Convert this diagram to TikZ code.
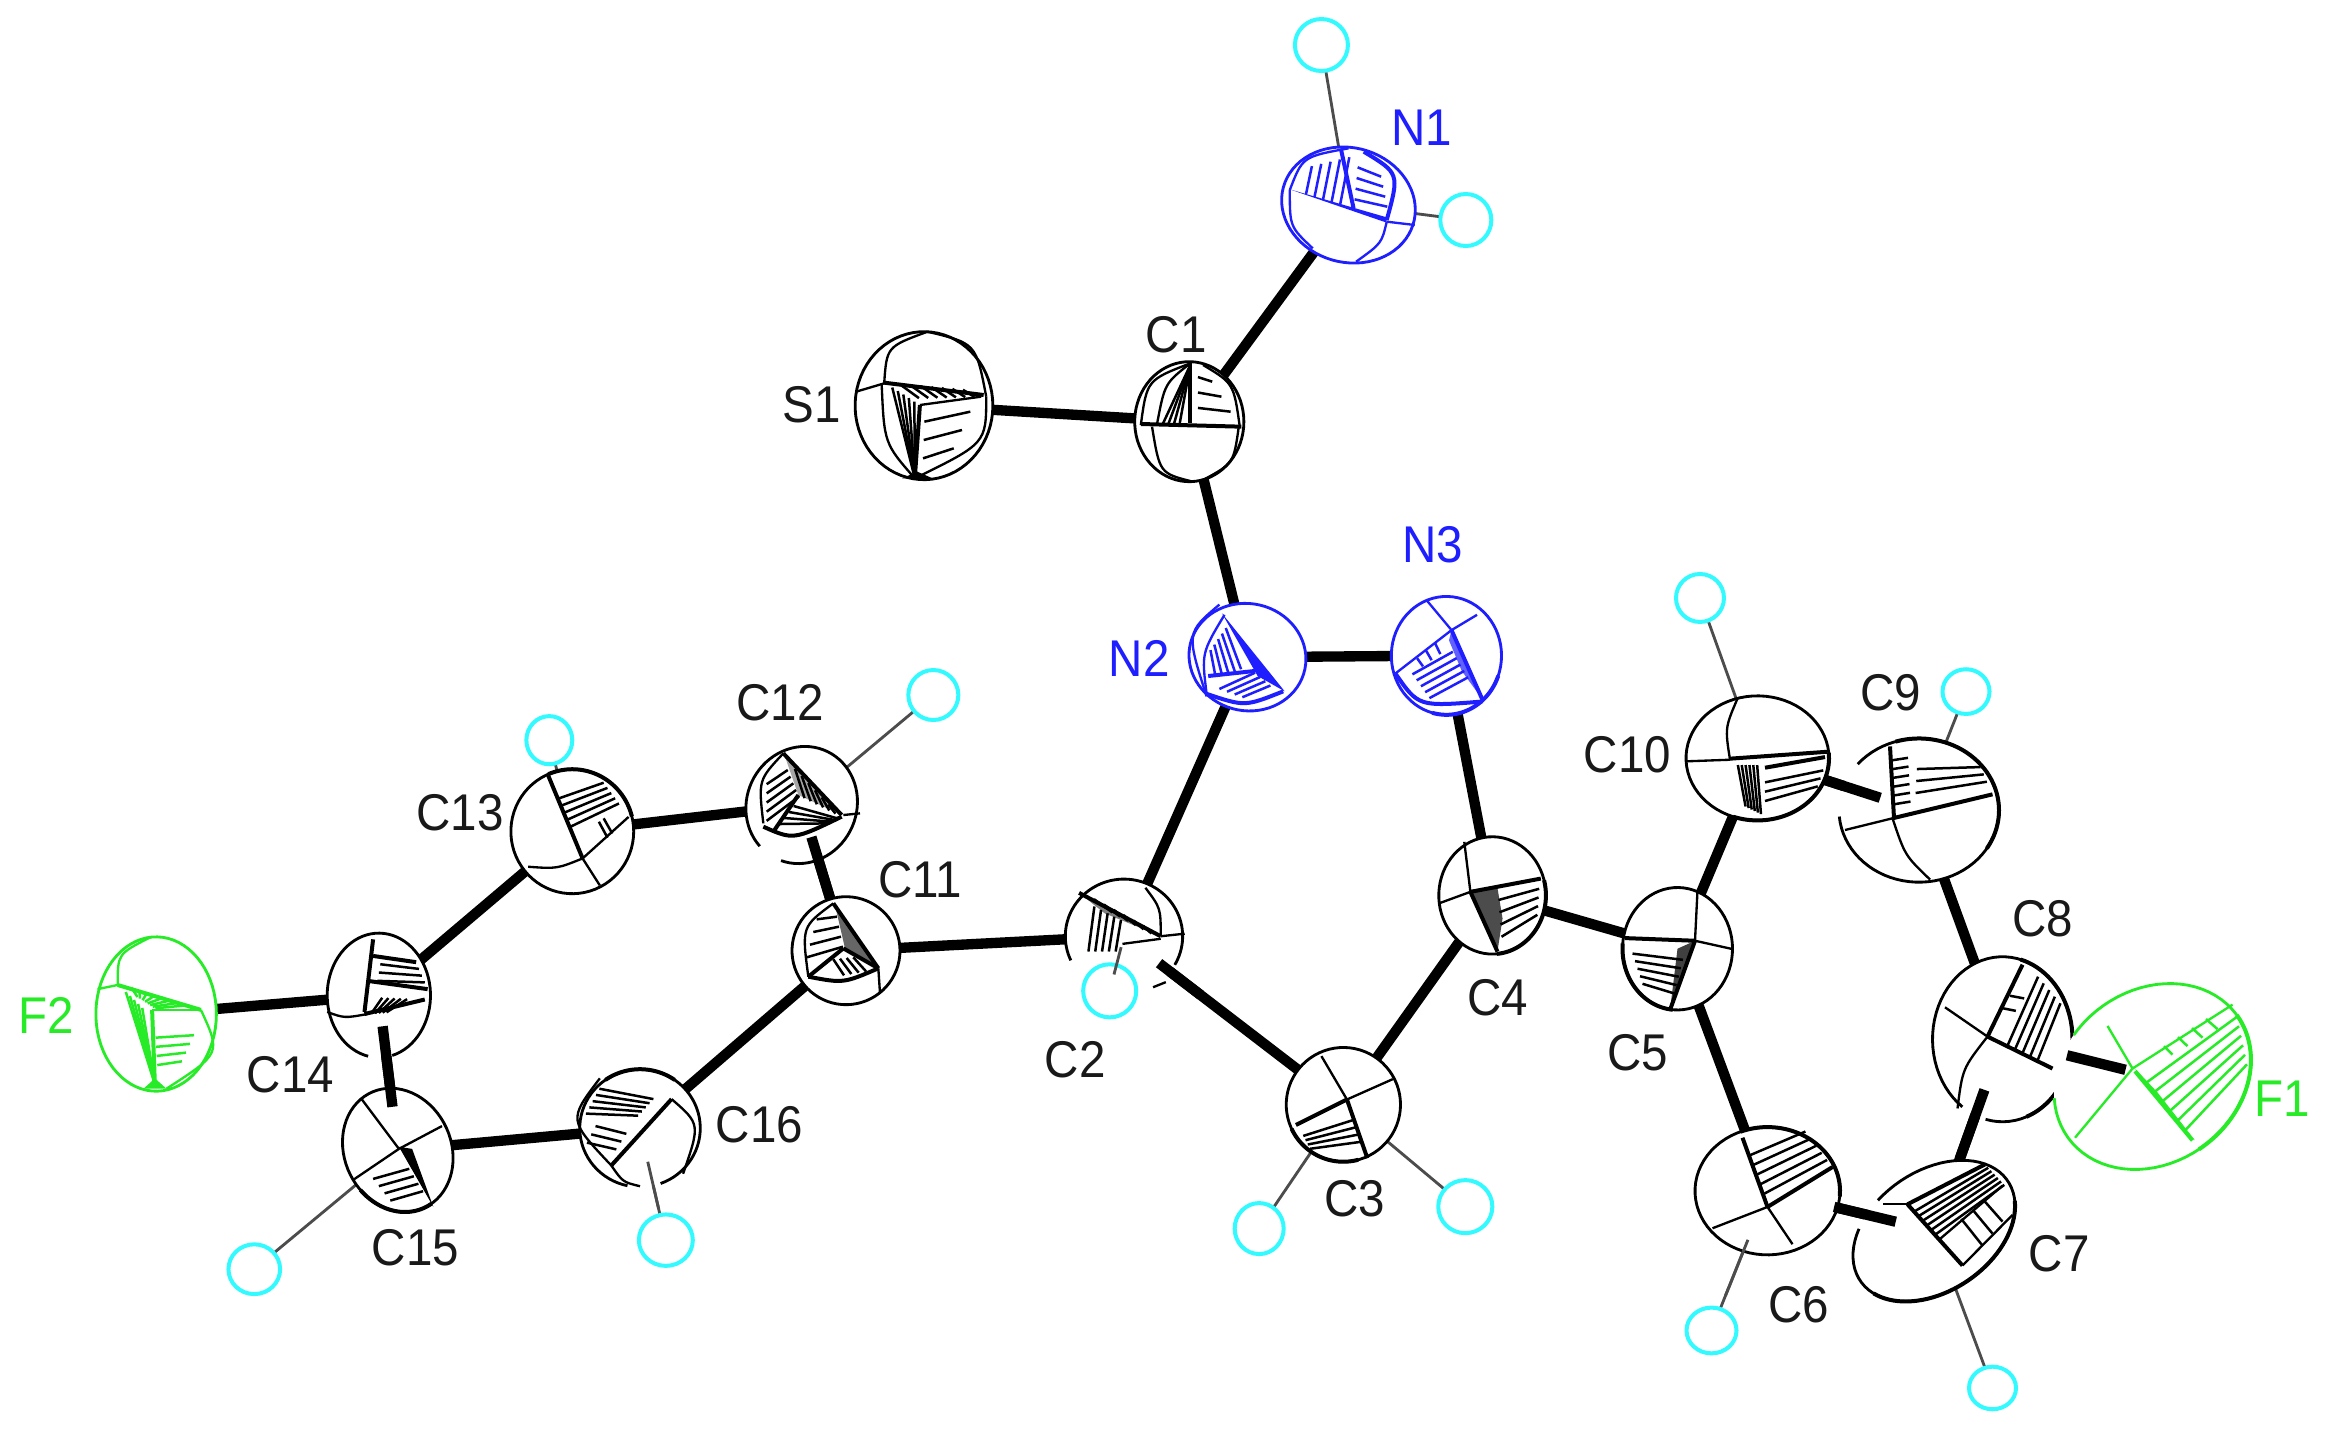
\documentclass[tikz,border=0pt]{standalone}
\usepackage{fontspec}
\setmainfont[FakeStretch=0.92]{Liberation Sans}
\usetikzlibrary{calc}
\definecolor{Nb}{RGB}{30,30,255}
\definecolor{Fg}{RGB}{40,235,40}
\definecolor{Hc}{RGB}{50,250,255}
\definecolor{Lk}{RGB}{25,25,25}
\pgfdeclarelayer{bg}
\pgfsetlayers{bg,main}
\tikzset{
  ol/.style={line width=0.85pt},
  tl/.style={line width=0.7pt},
  hl/.style={line width=0.75pt},
  tk/.style={line width=1.2pt},
  bondline/.style={line width=3.1pt,color=black},
  hbond/.style={line width=0.85pt,color=black!70},
  hat/.style={line width=1.2pt,draw=Hc,fill=white},
  lab/.style={font=\fontsize{15.5}{17}\selectfont,text=Lk,inner sep=0pt},
  z1/.style={shift={(800,0)},xscale=1/1.96,yscale=1/3},
  z2/.style={shift={(1550,600)},xscale=1/2,yscale=1/1.878},
  z3/.style={shift={(0,680)},xscale=1/1.742,yscale=1/2.41},
  z4/.style={shift={(1000,500)},xscale=1/1.96,yscale=1/1.96},
  z5/.style={shift={(720,700)},scale=1/3},
}
\newcommand{\atom}[8]{%
  \def\Ax{#2}\def\Ay{#3}\def\Arx{#4}\def\Ary{#5}\def\Arot{#6}%
  \coordinate (#1) at (#2,#3);
  \fill[white,rotate around={#6:(#2,#3)}] (#2,#3) ellipse [x radius=#4,y radius=#5];
  \draw[ol,rotate around={#6:(#2,#3)}] plot[domain=#7:#8,samples=70,variable=\t] ({#2+#4*cos(\t)},{#3-#5*sin(\t)});
}
\newcommand{\tarc}[2]{%
  \draw[tk,rotate around={\Arot:(\Ax,\Ay)}] plot[domain=#1:#2,samples=40,variable=\t] ({\Ax+\Arx*cos(\t)},{\Ay-\Ary*sin(\t)});
}
\newcommand{\hatom}[5]{%
  \coordinate (#1) at (#2,#3);
  \draw[hat] (#2,#3) ellipse [x radius=#4,y radius=#5];
}
\def\hatch(#1)(#2)(#3)(#4)#5{%
  \foreach \i in {1,...,#5}{%
    \pgfmathsetmacro\hT{\i/(#5+1)}
    \draw[hl] ($(#1)!\hT!(#2)$) -- ($(#3)!\hT!(#4)$);
  }%
}
\newcommand{\fbond}[4]{\draw[bondline] ($(#1)!#3!(#2)$) -- ($(#1)!#4!(#2)$);}
\newcommand{\fhbond}[4]{\draw[hbond] ($(#1)!#3!(#2)$) -- ($(#1)!#4!(#2)$);}
\begin{document}
\begin{tikzpicture}[x=0.3pt,y=-0.3pt]
\useasboundingbox (0,0) rectangle (2335,1435);
% ---------- zone 1
\begin{scope}[z1]
  \atom{S1}{243}{1217}{135}{222}{0}{0}{360}
  \draw[tl] (110,1175)--(165,1150);
  \draw[tl] (165,1150) .. controls (170,1040) .. (250,995);
  \draw[tl] (250,995) .. controls (345,1030) .. (365,1190);
  \draw[tl] (365,1190) .. controls (365,1330) .. (225,1435);
  \draw[tl] (160,1150) .. controls (165,1330) .. (225,1435);
  \hatch(175,1150)(340,1172)(215,1195)(360,1190){7}
  \hatch(170,1152)(235,1215)(225,1435)(225,1435){5}
  \hatch(245,1210)(240,1430)(350,1180)(285,1400){3}
  \draw[tk] (165,1148)--(360,1185);
  \draw[tk] (235,1215)--(225,1435);
  \draw[tl] (235,1215)--(355,1190);
  \fill (200,1435)--(260,1435)--(230,1415)--cycle;
  \atom{C1}{763}{1265}{107}{180}{0}{0}{360}
  \draw[tl] (765,1090) .. controls (680,1140) .. (668,1275);
  \draw[tl] (765,1090) .. controls (715,1150) .. (700,1270);
  \draw[tl] (690,1280) .. controls (705,1420) .. (770,1445);
  \draw[tl] (860,1280) .. controls (850,1390) .. (790,1440);
  \draw[tl] (790,1095) .. controls (850,1150) .. (862,1280);
  \hatch(700,1272)(755,1272)(765,1095)(765,1095){4}
  \hatch(780,1085)(780,1270)(790,1100)(862,1280){3}
  \draw[tk] (668,1272)--(865,1280);
  \draw[tk] (765,1090)--(765,1270);
  \begin{scope}[color=Nb]
    \atom{N1}{1075}{615}{130}{175}{8}{0}{360}
    \draw[tl] (960,570) .. controls (985,470) .. (1075,445);
    \draw[tl] (1005,745) .. controls (960,680) .. (960,570);
    \draw[tl] (1150,665) .. controls (1140,730) .. (1090,785);
    \draw[tl] (1150,665)--(1205,675);
    \hatch(985,505)(1095,465)(975,575)(1075,625){5}
    \hatch(1095,470)(1085,630)(1135,500)(1155,650){4}
    \draw[tk] (1105,455) .. controls (1175,520) .. (1150,660);
    \draw[tk] (1060,445)--(1085,625);
    \fill (960,568)--(1150,652)--(1150,668)--cycle;
  \end{scope}
  \hatom{H1a}{1022}{135}{52}{78}
  \hatom{H1b}{1305}{660}{50}{78}
\end{scope}
% ---------- zone 4
\begin{scope}[z4]
  \begin{scope}[color=Nb]
    \atom{N2}{485}{308}{115}{105}{-12}{0}{360}
    \draw[tl] (430,205) .. controls (365,260) .. (405,385);
    \draw[tl] (405,380) .. controls (395,300) .. (440,225);
    \draw[tk] (405,380) .. controls (480,405) .. (555,375);
    \hatch(405,305)(450,240)(410,350)(485,328){5}
    \hatch(490,330)(540,372)(415,365)(490,392){4}
    \fill (435,222)--(558,375)--(505,345)--cycle;
    \draw[tk] (408,345)--(500,335);
    \atom{N3}{875}{305}{108}{116}{0}{0}{360}
    \draw[tl] (885,255)--(935,225);
    \draw[tl] (885,255)--(835,195);
    \draw[tl] (775,340)--(885,255);
    \hatch(800,330)(850,400)(880,285)(925,360){5}
    \hatch(800,325)(870,265)(812,338)(880,290){3}
    \fill[opacity=.7] (885,255)--(945,390)--(905,335)--(880,275)--cycle;
    \tarc{-105}{-20}
    \draw[tk] (775,340) .. controls (820,405) .. (945,395);
    \draw[tk] (885,255)--(945,390);
  \end{scope}
  \atom{C2}{243}{855}{115}{112}{0}{-30}{205}
  \draw[tl] (315,855) .. controls (315,800) .. (285,760);
  \draw[tl] (315,855)--(362,850);
  \hatch(172,790)(250,830)(160,885)(240,885){5}
  \fill[opacity=.5] (155,770)--(315,855)--(205,810)--cycle;
  \hatch(165,772)(300,845)(205,800)(312,858){6}
  \draw[tk] (155,770)--(315,855);
  \draw[tl] (240,870)--(315,860);
  \draw[tl] (300,955)--(325,945);
  \atom{C3}{673}{1185}{112}{112}{0}{0}{360}
  \draw[tl] (680,1175)--(630,1090);
  \draw[tl] (680,1175)--(770,1135);
  \draw[tk] (680,1175)--(580,1225);
  \draw[tk] (680,1175)--(720,1290);
  \hatch(590,1238)(612,1280)(690,1200)(715,1272){4}
  \tarc{-75}{-155}
  \atom{C4}{965}{775}{105}{115}{0}{0}{360}
  \draw[tl] (862,790)--(922,768);
  \draw[tl] (910,670)--(922,768);
  \draw[tk] (922,768)--(1060,742);
  \draw[tk] (922,768)--(975,885);
  \fill[opacity=.7] (922,770)--(975,885)--(985,820)--(975,760)--cycle;
  \hatch(975,760)(985,880)(1058,745)(1052,830){4}
  \tarc{-85}{15}
  \hatom{H2}{215}{962}{52}{52}
  \hatom{H3a}{508}{1428}{48}{50}
  \hatom{H3b}{912}{1385}{53}{52}
  \hatom{H10}{1372}{192}{47}{47}
\end{scope}
% ---------- zone 2
\begin{scope}[z2]
  \atom{C5}{255}{655}{110}{115}{0}{0}{360}
  \draw[tl] (290,640)--(295,545);
  \draw[tl] (290,640)--(362,655);
  \draw[tk] (150,635)--(290,640);
  \hatch(160,650)(190,735)(270,660)(245,755){5}
  \fill[opacity=.75] (290,640)--(240,770)--(255,655)--cycle;
  \draw[tk] (290,640)--(240,770);
  \tarc{175}{265}
  \atom{C10}{415}{297}{143}{117}{0}{0}{360}
  \draw[tl] (272,303)--(360,300);
  \draw[tl] (375,185) .. controls (350,240) .. (360,300);
  \draw[tk] (360,298)--(555,285);
  \hatch(368,310)(422,310)(385,385)(428,405){6}
  \hatch(430,325)(430,395)(552,305)(530,365){3}
  \draw[tk] (430,315)--(550,295);
  \tarc{-110}{5}
  \atom{C9}{738}{395}{160}{135}{0}{185}{500}
  \draw[tl] (685,410)--(590,432);
  \draw[tl] (685,410) .. controls (710,480) .. (760,525);
  \draw[tk] (685,410)--(885,365);
  \hatch(680,285)(690,400)(715,280)(722,395){6}
  \hatch(735,295)(730,385)(855,300)(880,355){3}
  \draw[tk] (680,275)--(688,410);
  \tarc{-32}{107}
  \atom{C8}{905}{825}{140}{155}{0}{256}{595}
  \draw[tl] (790,765)--(875,820);
  \draw[tk] (875,820)--(1005,880);
  \draw[tl] (875,820) .. controls (825,880) .. (815,955);
  \draw[tk] (875,820)--(945,685);
  \hatch(900,830)(990,872)(965,695)(1032,770){5}
  \hatch(890,790)(935,720)(915,795)(965,725){2}
  \tarc{-70}{75}
  \begin{scope}[color=Fg]
    \atom{F1}{1205}{895}{205}{165}{28}{160}{480}
    \draw[tl] (1165,880)--(1050,1010);
    \draw[tl] (1165,880)--(1115,800);
    \draw[tl] (1165,880)--(1365,760);
    \hatch(1175,890)(1285,1015)(1370,765)(1398,890){6}
    \hatch(1200,855)(1340,770)(1215,870)(1365,790){4}
    \fill (1165,875)--(1290,1015)--(1215,925)--cycle;
    \tarc{-85}{8}
    \draw[tk] (1170,885)--(1285,1015);
  \end{scope}
  \atom{C7}{768}{1185}{175}{115}{30}{137}{473}
  \hatch(720,1140)(780,1200)(870,1060)(915,1105){6}
  \hatch(800,1180)(890,1110)(845,1235)(925,1145){3}
  \draw[tl] (780,1200)--(905,1100);
  \draw[tk] (715,1135)--(825,1250);
  \draw[tk] (715,1135)--(870,1060);
  \draw[tl] (825,1250)--(925,1155);
  \draw[tl] (715,1135)--(665,1135);
  \tarc{201}{344}
  \atom{C6}{435}{1110}{145}{120}{0}{0}{360}
  \draw[tl] (435,1140)--(325,1180);
  \draw[tl] (435,1140)--(485,1210);
  \draw[tk] (385,1010)--(435,1140);
  \draw[tk] (435,1140)--(565,1065);
  \hatch(392,1025)(432,1135)(500,985)(565,1065){5}
  \tarc{-5}{112}
  \hatom{H9}{832}{172}{47}{42}
  \hatom{H6}{323}{1372}{50}{43}
  \hatom{H7}{885}{1480}{47}{40}
\end{scope}
% ---------- zone 3
\begin{scope}[z3]
  \begin{scope}[color=Fg]
    \atom{F2}{272}{805}{105}{186}{0}{0}{360}
    \draw[tl] (170,745)--(205,735);
    \draw[tl] (205,735) .. controls (205,660) .. (262,620);
    \draw[tl] (350,795) .. controls (385,900) .. (290,985);
    \hatch(215,735)(340,790)(235,760)(275,795){8}
    \hatch(212,742)(255,800)(270,975)(270,975){5}
    \hatch(270,840)(275,950)(345,835)(310,940){4}
    \draw[tk] (205,735)--(350,795);
    \draw[tk] (265,795)--(270,980);
    \draw[tl] (265,795)--(350,795);
    \fill (250,985)--(290,985)--(270,960)--cycle;
  \end{scope}
  \atom{C14}{660}{760}{90}{150}{0}{-75}{258}
  \draw[tl] (570,800) .. controls (600,815) .. (640,805);
  \draw[tk] (650,625)--(635,800);
  \hatch(665,665)(655,745)(725,680)(745,745){3}
  \draw[tk] (650,665)--(725,680);
  \draw[tk] (640,725)--(745,745);
  \hatch(655,765)(720,770)(640,805)(680,800){5}
  \draw[tk] (635,805)--(740,770);
  \atom{C13}{997}{365}{107}{150}{0}{0}{360}
  \draw[tk] (955,230)--(1015,430);
  \draw[tl] (1015,430) .. controls (970,455) .. (920,450);
  \draw[tl] (1015,430)--(1045,495);
  \draw[tl] (1015,430)--(1095,330);
  \hatch(965,270)(1000,370)(1045,235)(1085,310){5}
  \hatch(1035,350)(1060,325)(1050,390)(1075,360){2}
  \tarc{14}{113}
  \atom{C15}{693}{1133}{95}{150}{8}{0}{360}
  \draw[tl] (695,1130)--(630,1010);
  \draw[tl] (695,1130)--(770,1075);
  \draw[tl] (695,1130)--(615,1205);
  \fill (695,1125)--(755,1270)--(718,1130)--cycle;
  \hatch(640,1185)(690,1272)(705,1160)(745,1250){4}
  \tarc{215}{295}
  \atom{C16}{1115}{1080}{105}{142}{0}{-70}{258}
  \draw[tk] (1170,1010)--(1065,1170);
  \hatch(1050,970)(1015,1060)(1145,1000)(1105,1060){5}
  \hatch(1100,1075)(1065,1150)(1045,1055)(1015,1135){3}
  \draw[tl] (1045,960) .. controls (990,1060) .. (1065,1170);
  \draw[tl] (1065,1170) .. controls (1085,1210) .. (1115,1220);
  \tarc{55}{125}
  \draw[tl] (1170,1010) .. controls (1220,1070) .. (1190,1190);
  \hatom{H13}{957}{145}{40}{58}
  \hatom{H15}{443}{1420}{45}{60}
  \hatom{H16}{1160}{1350}{47}{62}
\end{scope}
% ---------- zone 5
\begin{scope}[z5]
  \atom{C12}{245}{315}{165}{178}{-25}{-85}{248}
  \hatch(140,225)(140,390)(195,190)(245,310){5}
  \fill[opacity=.35] (195,170)--(365,345)--(235,285)--cycle;
  \hatch(205,185)(345,335)(235,285)(365,350){6}
  \hatch(235,300)(165,390)(360,350)(320,375){4}
  \draw[tk] (190,160)--(365,345);
  \draw[tl] (190,160) .. controls (115,240) .. (130,370);
  \draw[tk] (160,395)--(235,285);
  \draw[tk] (130,380) .. controls (220,420) .. (365,350);
  \draw[tl] (370,345)--(420,340);
  \atom{C11}{378}{752}{162}{162}{0}{0}{360}
  \hatch(300,620)(250,810)(345,620)(375,770){4}
  \fill[opacity=.6] (345,615)--(475,805)--(375,745)--cycle;
  \hatch(320,780)(420,770)(350,830)(460,810){4}
  \draw[tk] (340,610)--(475,805);
  \draw[tl] (340,610) .. controls (245,680) .. (265,830);
  \draw[tk] (370,745)--(265,830);
  \draw[tk] (370,745)--(475,805);
  \draw[tk] (265,830) .. controls (370,850) .. (475,805);
  \draw[tl] (475,805)--(480,880);
  \hatom{H12}{640}{-15}{75}{75}
\end{scope}
% ---------- bonds in front of atoms
\fbond{C2}{C3}{0.16}{0.35}
\fbond{C14}{C15}{0.2}{0.72}
\fbond{C10}{C9}{0.42}{0.76}
\fbond{C7}{C8}{0.375}{0.736}
\fbond{C6}{C7}{0.4}{0.77}
\fbond{C8}{F1}{0.43}{0.82}
\fbond{C11}{C12}{0.35}{0.78}
\fhbond{C16}{H16}{0.3}{0.72}
\fhbond{C6}{H6}{0.35}{0.75}
\fhbond{C2}{H2}{0.2}{0.7}
% ---------- bonds behind atoms
\begin{pgfonlayer}{bg}
  \fill[white] (0,0) rectangle (2335,1435);
  \foreach \a/\b in {S1/C1,C1/N1,C1/N2,N2/N3,N2/C2,N3/C4,C2/C3,C3/C4,C4/C5,C5/C10,C5/C6,C10/C9,C9/C8,C8/C7,C7/C6,C8/F1,C2/C11,C11/C12,C11/C16,C12/C13,C13/C14,C14/F2,C14/C15,C15/C16}
    {\draw[bondline] (\a) -- (\b);}
  \foreach \a/\b in {N1/H1a,N1/H1b,C3/H3a,C3/H3b,C10/H10,C9/H9,C6/H6,C7/H7,C12/H12,C13/H13,C15/H15,C16/H16,C2/H2}
    {\draw[hbond] (\a) -- (\b);}
\end{pgfonlayer}
% ---------- labels
\begin{scope}[scale=1.489]
  \node[lab] (lS1) at (545,272) {S1};
  \node[lab] (lC1) at (790,225) {C1};
  \node[lab,text=Nb] (lN1) at (955,86) {N1};
  \node[lab,text=Nb] (lN2) at (765,442) {N2};
  \node[lab,text=Nb] (lN3) at (962,366) {N3};
  \node[lab] (lC12) at (524,472) {C12};
  \node[lab] (lC13) at (309,546) {C13};
  \node[lab] (lC11) at (618,591) {C11};
  \node[lab] (lC10) at (1093,507) {C10};
  \node[lab] (lC9) at (1270,465) {C9};
  \node[lab] (lC8) at (1372,617) {C8};
  \node[lab,text=Fg] (lF1) at (1533,738) {F1};
  \node[lab,text=Fg] (lF2) at (31,682) {F2};
  \node[lab] (lC14) at (195,722) {C14};
  \node[lab] (lC2) at (722,712) {C2};
  \node[lab] (lC4) at (1006,670) {C4};
  \node[lab] (lC5) at (1100,707) {C5};
  \node[lab] (lC16) at (510,755) {C16};
  \node[lab] (lC3) at (910,805) {C3};
  \node[lab] (lC7) at (1383,842) {C7};
  \node[lab] (lC6) at (1208,876) {C6};
  \node[lab] (lC15) at (279,838) {C15};
\end{scope}
\end{tikzpicture}
\end{document}
